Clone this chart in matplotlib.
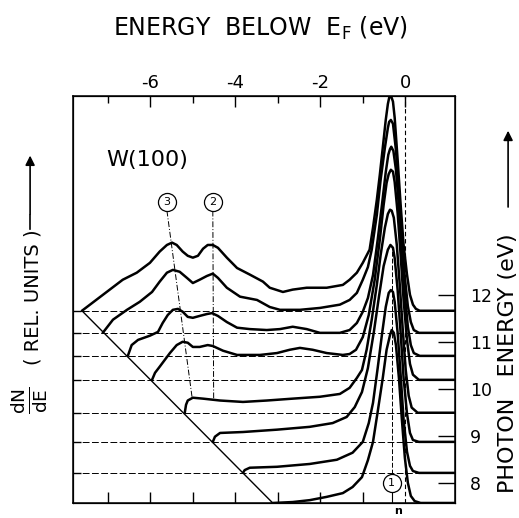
import matplotlib
matplotlib.use("Agg")
import matplotlib.pyplot as plt

plt.rcParams['font.family'] = ['DejaVu Sans']
plt.rcParams['axes.unicode_minus'] = False

# baseline of each spectrum on the photon energy scale (top to bottom)
baseline_hv = [11.66, 11.19, 10.70, 10.19, 9.49, 8.87, 8.21, 7.57]

# spectra: energy below EF (eV) and dN/dE above baseline (rel. units)
e1 = [-7.61, -6.65, -6.32, -6.01, -5.78, -5.61, -5.49, -5.38, -5.24, -5.12, -5.00, -4.88, -4.76,
      -4.65, -4.53, -4.41, -4.20, -3.96, -3.66, -3.35, -3.19, -2.88, -2.65, -2.32, -1.85, -1.47,
      -1.31, -1.14, -1.00, -0.84, -0.76, -0.67, -0.60, -0.53, -0.46, -0.41, -0.38, -0.35, -0.32,
      -0.29, -0.25, -0.18, -0.11, -0.04, 0.04, 0.11, 0.18, 0.25, 0.34, 1.17]
n1 = [0.0, 0.66, 0.81, 1.02, 1.26, 1.40, 1.45, 1.40, 1.26, 1.17, 1.13, 1.17, 1.32,
      1.40, 1.40, 1.34, 1.13, 0.91, 0.77, 0.62, 0.49, 0.40, 0.45, 0.49, 0.49, 0.55,
      0.66, 0.81, 1.02, 1.30, 1.77, 2.36, 2.89, 3.47, 4.06, 4.40, 4.53, 4.57, 4.53,
      4.45, 4.11, 3.21, 2.26, 1.40, 0.77, 0.34, 0.13, 0.04, 0.0, 0.0]

e2 = [-7.12, -6.88, -6.55, -6.25, -5.96, -5.78, -5.61, -5.47, -5.31, -5.14, -5.00, -4.84, -4.67,
      -4.53, -4.41, -4.20, -3.89, -3.49, -3.19, -2.95, -2.48, -2.01, -1.54, -1.31, -1.14, -1.00,
      -0.88, -0.79, -0.67, -0.58, -0.48, -0.41, -0.38, -0.34, -0.29, -0.22, -0.15, -0.08, -0.01,
      0.06, 0.13, 0.20, 0.32, 1.17]
n2 = [0.0, 0.28, 0.49, 0.66, 0.87, 1.09, 1.28, 1.34, 1.30, 1.17, 1.06, 1.13, 1.21,
      1.26, 1.17, 0.96, 0.77, 0.70, 0.55, 0.49, 0.49, 0.53, 0.60, 0.70, 0.85, 1.13,
      1.40, 1.77, 2.51, 3.26, 3.94, 4.36, 4.49, 4.53, 4.45, 3.89, 3.00, 2.02, 1.17,
      0.57, 0.23, 0.06, 0.0, 0.0]

e3 = [-6.53, -6.44, -6.29, -6.01, -5.82, -5.71, -5.59, -5.47, -5.35, -5.24, -5.12, -5.00, -4.84,
      -4.67, -4.55, -4.41, -4.20, -3.96, -3.66, -3.26, -2.95, -2.65, -2.32, -2.01, -1.54, -1.31,
      -1.14, -1.00, -0.88, -0.76, -0.65, -0.55, -0.46, -0.40, -0.36, -0.33, -0.28, -0.22, -0.15,
      -0.08, -0.01, 0.06, 0.13, 0.20, 0.34, 1.17]
n3 = [0.0, 0.23, 0.34, 0.43, 0.51, 0.70, 0.87, 0.98, 1.00, 0.94, 0.83, 0.81, 0.85,
      0.89, 0.91, 0.85, 0.72, 0.60, 0.57, 0.55, 0.57, 0.62, 0.57, 0.49, 0.49, 0.55,
      0.70, 0.94, 1.23, 1.72, 2.47, 3.21, 3.91, 4.28, 4.40, 4.45, 4.36, 3.96, 3.17,
      2.21, 1.30, 0.62, 0.23, 0.06, 0.0, 0.0]

e4 = [-5.96, -5.89, -5.78, -5.54, -5.38, -5.24, -5.12, -5.00, -4.84, -4.65, -4.53, -4.29, -3.96,
      -3.42, -3.02, -2.72, -2.48, -2.18, -1.85, -1.47, -1.31, -1.16, -1.00, -0.86, -0.72, -0.60,
      -0.51, -0.44, -0.39, -0.34, -0.29, -0.25, -0.18, -0.11, -0.04, 0.04, 0.11, 0.18, 0.32, 1.17]
n4 = [0.0, 0.15, 0.28, 0.57, 0.74, 0.81, 0.79, 0.70, 0.70, 0.74, 0.72, 0.62, 0.53,
      0.53, 0.57, 0.64, 0.68, 0.64, 0.57, 0.53, 0.55, 0.64, 0.91, 1.38, 2.13, 2.98,
      3.72, 4.19, 4.38, 4.47, 4.43, 4.21, 3.55, 2.66, 1.70, 0.85, 0.34, 0.11, 0.0, 0.0]

e5 = [-5.19, -5.16, -5.12, -5.00, -4.76, -4.36, -3.82, -3.26, -2.65, -2.01, -1.54, -1.31, -1.14,
      -1.02, -0.91, -0.79, -0.67, -0.58, -0.48, -0.41, -0.36, -0.32, -0.27, -0.20, -0.13, -0.06,
      0.01, 0.08, 0.15, 0.29, 1.17]
n5 = [0.0, 0.17, 0.26, 0.32, 0.30, 0.26, 0.23, 0.26, 0.30, 0.34, 0.40, 0.53, 0.74,
      0.91, 1.34, 1.98, 2.72, 3.36, 3.94, 4.23, 4.32, 4.30, 4.15, 3.57, 2.72, 1.77,
      0.91, 0.36, 0.11, 0.0, 0.0]

e6 = [-4.53, -4.48, -4.36, -3.82, -3.02, -2.25, -1.71, -1.38, -1.19, -1.02, -0.88, -0.74, -0.62,
      -0.51, -0.41, -0.35, -0.29, -0.25, -0.18, -0.11, -0.04, 0.04, 0.11, 0.18, 0.32, 1.17]
n6 = [0.0, 0.11, 0.19, 0.21, 0.26, 0.32, 0.40, 0.53, 0.74, 1.06, 1.57, 2.34, 3.09,
      3.74, 4.09, 4.19, 4.13, 3.91, 3.23, 2.32, 1.36, 0.60, 0.19, 0.04, 0.0, 0.0]

e7 = [-3.82, -3.78, -3.66, -3.02, -2.25, -1.61, -1.24, -1.00, -0.86, -0.76, -0.65, -0.55, -0.46,
      -0.39, -0.34, -0.29, -0.25, -0.18, -0.11, -0.04, 0.04, 0.11, 0.18, 0.32, 1.17]
n7 = [0.0, 0.06, 0.11, 0.13, 0.19, 0.28, 0.43, 0.66, 1.06, 1.49, 2.23, 2.94, 3.53,
      3.83, 3.89, 3.85, 3.64, 2.98, 2.09, 1.13, 0.45, 0.15, 0.04, 0.0, 0.0]

e8 = [-3.12, -2.65, -2.25, -1.85, -1.47, -1.24, -1.02, -0.88, -0.76, -0.65, -0.53, -0.44, -0.36,
      -0.32, -0.27, -0.22, -0.15, -0.08, -0.01, 0.06, 0.13, 0.22, 0.36, 1.17]
n8 = [0.0, 0.02, 0.06, 0.13, 0.21, 0.34, 0.55, 0.91, 1.30, 1.94, 2.66, 3.26, 3.57,
      3.68, 3.62, 3.36, 2.66, 1.77, 0.96, 0.43, 0.15, 0.04, 0.0, 0.0]

spectra_e = [e1, e2, e3, e4, e5, e6, e7, e8]
spectra_n = [n1, n2, n3, n4, n5, n6, n7, n8]

# threshold line (onsets of the spectra)
diag_e = [-7.61, -3.12]
diag_hv = [11.66, 7.57]

# structure lines 3, 2 and 1
line3_e, line3_hv = [-5.61, -5.02], [13.79, 9.83]
line2_e, line2_hv = [-4.53, -4.51], [13.79, 9.77]
line1_e, line1_hv = [-0.32, -0.32], [8.19, 13.0]
marks = ['3', '2', '1']
mark_e = [-5.61, -4.53, -0.32]
mark_hv = [13.98, 13.98, 8.0]

top_ticks = [-6, -4, -2, 0]
top_tick_labels = ['-6', '-4', '-2', '0']
minor_ticks = [-7, -5, -3, -1]
bottom_ticks = [-7, -6, -5, -4, -3, -2, -1]
hv_ticks = [8, 9, 10, 11, 12]

fig = plt.figure(figsize=(5.19, 5.18), dpi=100)
ax = fig.add_axes([0.1407, 0.0290, 0.7360, 0.7857])
xlim = (-7.82, 1.17)
ylim = (7.57, 16.23)

# baselines
for b in baseline_hv:
    ax.plot(xlim, [b, b], color='black', lw=0.7, ls=(0, (7, 2.5)))

# Fermi level
ax.plot([0, 0], ylim, color='black', lw=0.8, ls=(0, (4, 2.5)))

for e, n, b in zip(spectra_e, spectra_n, baseline_hv):
    ax.plot(e, [b + v for v in n], color='black', lw=1.8,
            solid_joinstyle='round', solid_capstyle='round')

ax.plot(diag_e, diag_hv, color='black', lw=1.0)

ax.plot(line3_e, line3_hv, color='black', lw=0.7, ls=(0, (6, 2, 1, 2)))
ax.plot(line2_e, line2_hv, color='black', lw=0.7, ls=(0, (6, 2, 1, 2)))
ax.plot(line1_e, line1_hv, color='black', lw=0.7, ls=(0, (5, 2)))
ax.plot([-0.32, -0.32], [7.57, 7.81], color='black', lw=0.8)
for m, x, y in zip(marks, mark_e, mark_hv):
    ax.plot(x, y, 'o', ms=13, mfc='white', mec='black', mew=0.9, zorder=5)
    ax.text(x, y, m, ha='center', va='center', fontsize=8, zorder=6)

ax.text(-6.08, 14.87, 'W(100)', ha='center', va='center', fontsize=16)
ax.text(-0.18, 7.33, 'n', ha='center', va='baseline', fontsize=8, fontweight='bold')

ax.set_xlim(xlim)
ax.set_ylim(ylim)
for s in ax.spines.values():
    s.set_linewidth(1.1)

ax.set_xticks(bottom_ticks)
ax.set_xticklabels([])
ax.set_yticks(baseline_hv[:-1])
ax.set_yticklabels([])
ax.tick_params(axis='x', direction='in', length=8, width=1.0)
ax.tick_params(axis='y', direction='in', length=6, width=1.0)

top = ax.twiny()
top.set_xlim(xlim)
top.set_xticks(top_ticks)
top.set_xticklabels(top_tick_labels)
top.set_xticks(minor_ticks, minor=True)
top.tick_params(axis='x', which='major', direction='in', length=8, width=1.0,
                labelsize=13, pad=3)
top.tick_params(axis='x', which='minor', direction='in', length=5, width=1.0)

right = ax.twinx()
right.set_ylim(ylim)
right.set_yticks(hv_ticks)
right.set_yticklabels([str(t) for t in hv_ticks])
right.tick_params(axis='y', direction='in', length=12, width=1.0, labelsize=12.5, pad=11)

fig.text(0.501, 0.946, 'ENERGY  BELOW  E$_{\\mathrm{F}}$ (eV)', ha='center', va='center',
         fontsize=17)
fig.text(0.979, 0.299, 'PHOTON   ENERGY (eV)', rotation=90, ha='center', va='center',
         fontsize=16)
fig.text(0.064, 0.427, '( REL. UNITS )', rotation=90, ha='center', va='center', fontsize=14)
fig.text(0.058, 0.228, r'$\frac{\mathrm{dN}}{\mathrm{dE}}$', rotation=90, ha='center',
         va='center', fontsize=19)
fig.add_artist(plt.Line2D([0.058, 0.058], [0.558, 0.585], color='black', lw=1.2))
ax.annotate('', xy=(0.058, 0.705), xytext=(0.058, 0.581), xycoords='figure fraction',
            arrowprops=dict(arrowstyle='-|>', color='black', lw=1.2, mutation_scale=14))
ax.annotate('', xy=(0.979, 0.753), xytext=(0.979, 0.595), xycoords='figure fraction',
            arrowprops=dict(arrowstyle='-|>', color='black', lw=1.2, mutation_scale=14))

fig.savefig('out.png', dpi=100)
